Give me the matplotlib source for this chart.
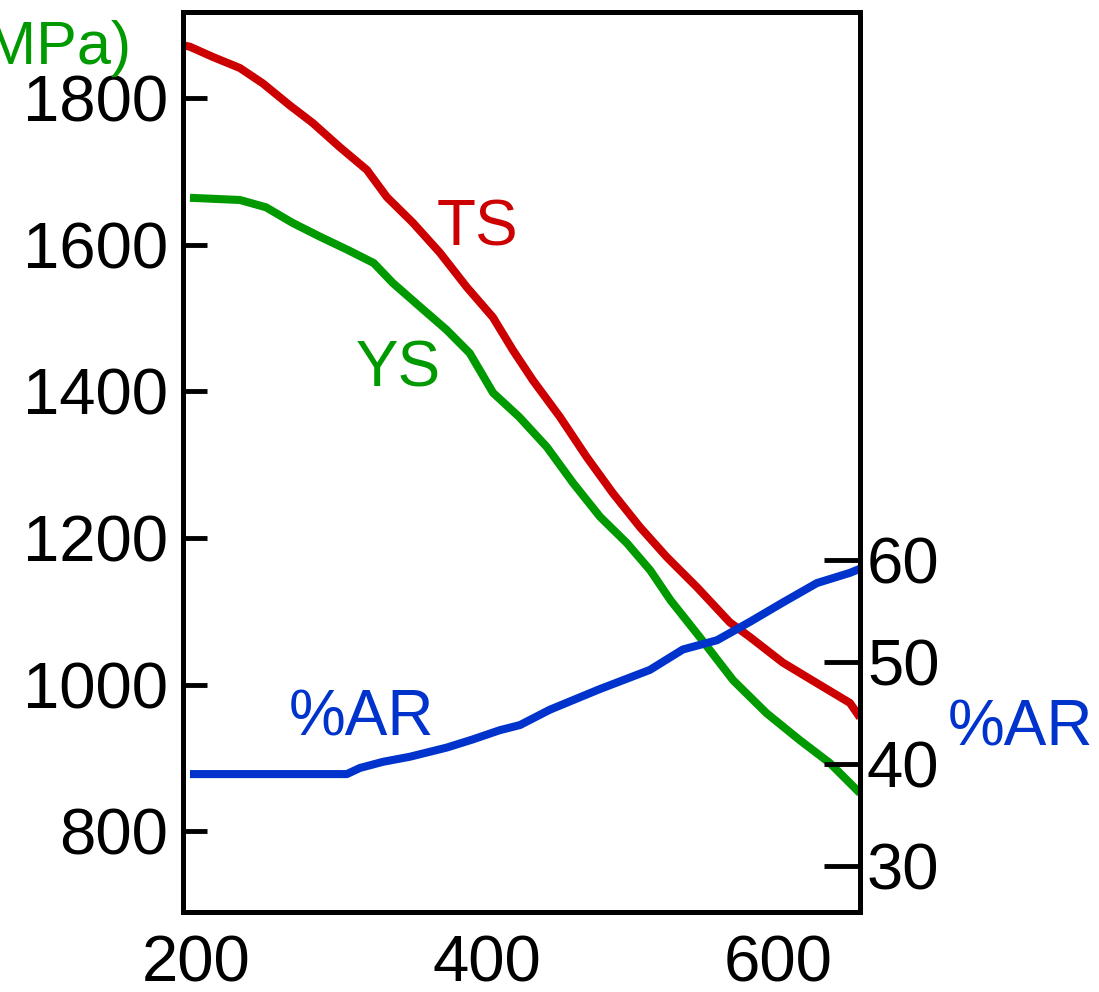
import matplotlib
matplotlib.use('Agg')
import matplotlib.pyplot as plt

plt.rcParams['font.family'] = ['Liberation Sans', 'DejaVu Sans']

# Temperature (x) and strength curves
ts_temp = [190.9, 195.7, 211.5, 230, 245.8, 264.3, 280.1, 298.7, 317.3, 331, 348.9, 367.5,
           386, 403.9, 417.7, 431.4, 450, 468.5, 486.4, 504.9, 523.4, 544.1, 566.7, 580.5,
           603.2, 626.6, 649.3, 656.2]
ts_vals = [1872, 1870, 1856, 1841, 1820, 1790, 1766, 1733, 1702, 1665, 1630, 1589,
           1542, 1501, 1456, 1415, 1365, 1310, 1261, 1215, 1174, 1133, 1085, 1065,
           1030, 1002, 975, 955]

ys_temp = [195.7, 230, 248, 266, 285, 304, 322, 335, 354, 372, 388, 404, 422, 441, 459,
           477.5, 496, 512, 526, 546, 569, 592, 615, 635.5, 656.2]
ys_vals = [1664, 1661, 1651, 1630, 1611, 1593, 1575, 1548, 1515, 1484, 1452, 1398, 1365,
           1324, 1275, 1229, 1193, 1156, 1115, 1065, 1006, 961, 924, 893, 852]

ar_temp = [195.7, 303.5, 312.5, 328.3, 346.9, 372.3, 390.2, 408.7, 422.5, 443, 477,
           511.8, 534.5, 557.9, 580.5, 603.2, 626.6, 649.3, 656.2]
ar_vals = [39.0, 39.0, 39.6, 40.2, 40.7, 41.6, 42.4, 43.3, 43.8, 45.3, 47.3,
           49.2, 51.2, 52.1, 53.9, 55.8, 57.7, 58.7, 59.1]

x_ticks = [200, 400, 600]
left_ticks = [800, 1000, 1200, 1400, 1600, 1800]
right_ticks = [30, 40, 50, 60]

red = '#cc0000'
green = '#009900'
blue = '#0033cc'
fs = 47

fig = plt.figure(figsize=(10.99, 9.92), dpi=100)
ax = fig.add_axes([183 / 1099, 1 - 912 / 992, (860 - 183) / 1099, 900 / 992])
ax2 = ax.twinx()

ax.plot(ts_temp, ts_vals, color=red, lw=5.8, solid_capstyle='butt')
ax.plot(ys_temp, ys_vals, color=green, lw=5.8, solid_capstyle='butt')
ax2.plot(ar_temp, ar_vals, color=blue, lw=5.8, solid_capstyle='butt')

ax.set_xlim(190.9, 656.2)
ax.set_ylim(689.9, 1917.4)
ax2.set_ylim(25.5, 113.6)

ax.set_xticks(x_ticks)
ax.set_xticklabels([str(v) for v in x_ticks], fontsize=fs)
ax.set_yticks(left_ticks)
ax.set_yticklabels([str(v) for v in left_ticks], fontsize=fs)
ax2.set_yticks(right_ticks)
ax2.set_yticklabels([str(v) for v in right_ticks], fontsize=fs)

ax.tick_params(axis='x', length=0, pad=16)
ax.tick_params(axis='y', direction='in', length=17, width=3.5, pad=10.5)
ax2.tick_params(axis='y', direction='in', length=26, width=3.5, pad=5)

for a in (ax, ax2):
    for sp in a.spines.values():
        sp.set_linewidth(3.6)

ax.text(393.6, 1599.6, 'TS', color=red, fontsize=46, ha='center', va='baseline')
ax.text(338.6, 1407.3, 'YS', color=green, fontsize=46, ha='center', va='baseline')
ax.text(313.8, 931.3, '%AR', color=blue, fontsize=46, ha='center', va='baseline')

fig.text(1021 / 1099, 1 - 746 / 992, '%AR', color=blue, fontsize=46, ha='center', va='baseline')
fig.text(131 / 1099, 1 - 64 / 992, '(MPa)', color=green, fontsize=44, ha='right', va='baseline')

fig.savefig('out.png', dpi=100)
